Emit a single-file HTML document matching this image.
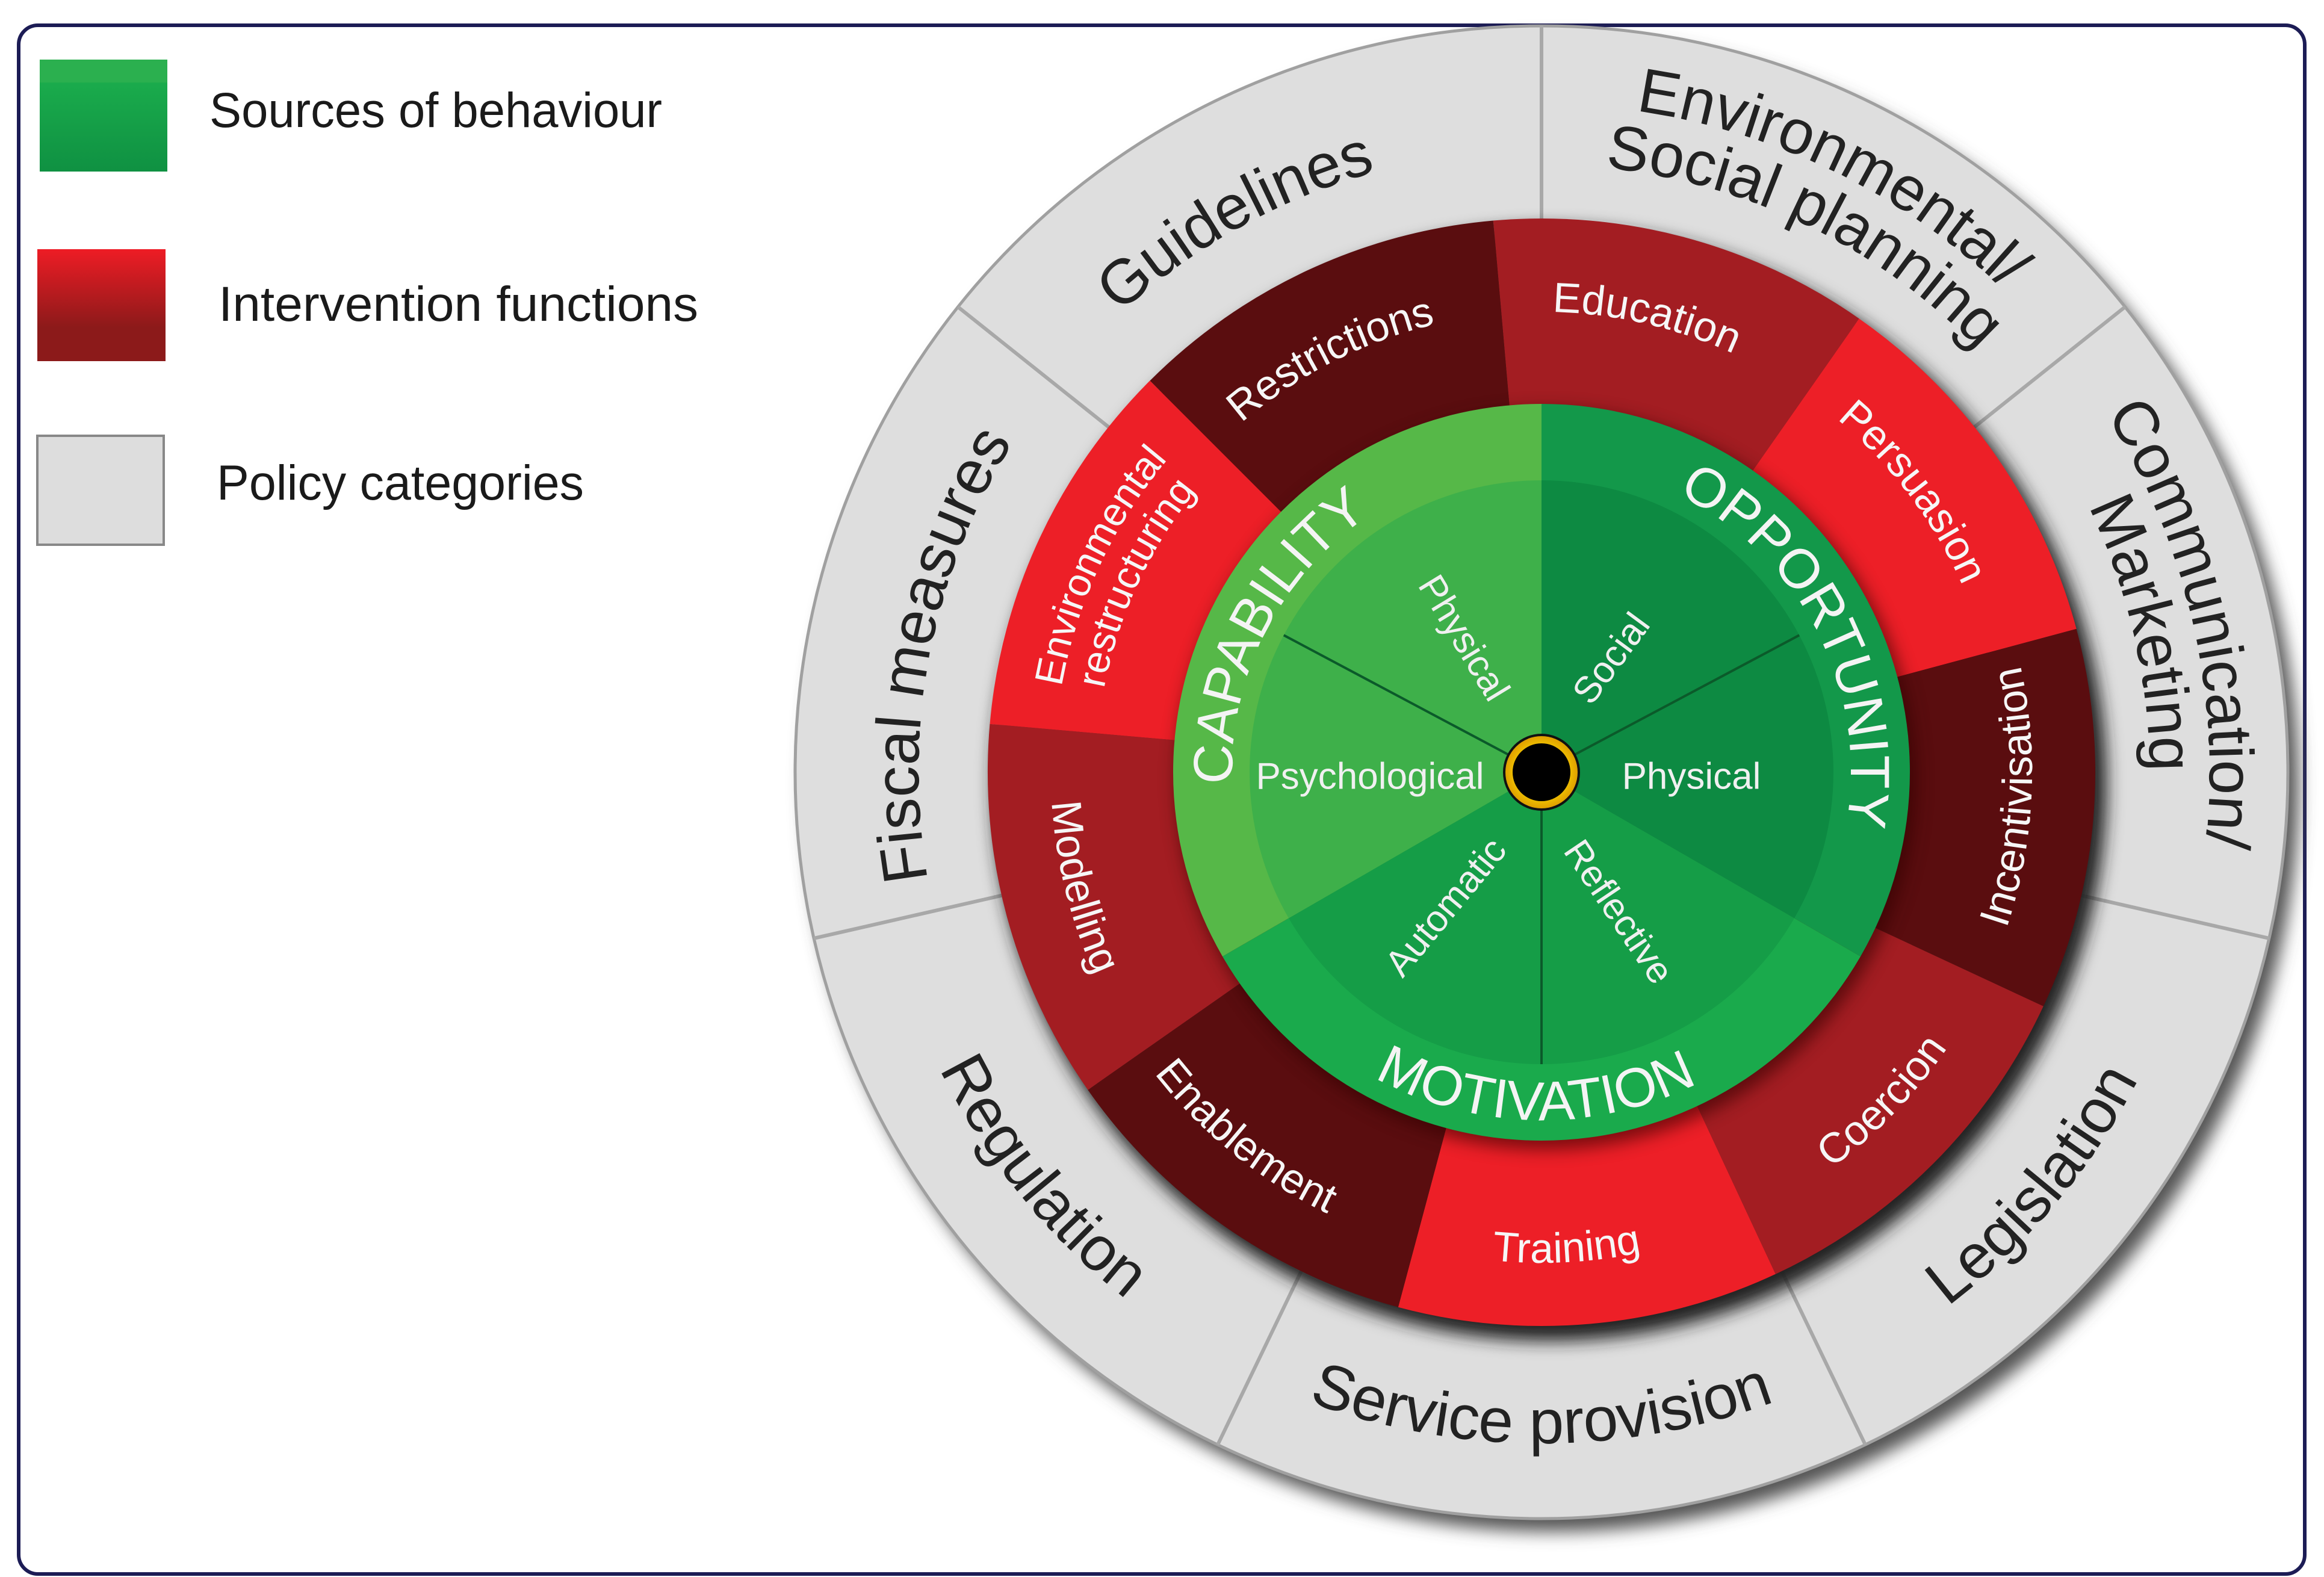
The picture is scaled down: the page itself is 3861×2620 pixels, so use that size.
<!DOCTYPE html>
<html><head><meta charset="utf-8"><style>
html,body{margin:0;padding:0;background:#fff}
svg{display:block}
text{font-family:"Liberation Sans","DejaVu Sans",sans-serif}
</style></head><body>
<svg width="3861" height="2620" viewBox="0 0 3861 2620" xmlns="http://www.w3.org/2000/svg">
<defs>
<linearGradient id="lg" x1="0" y1="0" x2="0" y2="1"><stop offset="0" stop-color="#2bb04f"/><stop offset="0.2" stop-color="#2bb04f"/><stop offset="0.21" stop-color="#1aab4c"/><stop offset="1" stop-color="#0f9142"/></linearGradient>
<linearGradient id="lr" x1="0" y1="0" x2="0" y2="1"><stop offset="0" stop-color="#ee1c25"/><stop offset="0.7" stop-color="#8c1a1a"/><stop offset="1" stop-color="#8c1a1a"/></linearGradient>
<radialGradient id="yg"><stop offset="0.7" stop-color="#f2c800"/><stop offset="1" stop-color="#e0a000"/></radialGradient>
<filter id="sh" x="-20%" y="-20%" width="140%" height="140%"><feGaussianBlur stdDeviation="14"/></filter>
<path id="gT1035" d="M-1035,0 A1035,1035 0 0 1 1035,0"/>
<path id="gT1110" d="M-1110,0 A1110,1110 0 0 1 1110,0"/>
<path id="gT1010" d="M-1010,0 A1010,1010 0 0 1 1010,0"/>
<path id="gB1115" d="M-1115,0 A1115,1115 0 0 0 1115,0"/>
<path id="rT765" d="M-765,0 A765,765 0 0 1 765,0"/>
<path id="rT810" d="M-810,0 A810,810 0 0 1 810,0"/>
<path id="rT740" d="M-740,0 A740,740 0 0 1 740,0"/>
<path id="rB815" d="M-815,0 A815,815 0 0 0 815,0"/>
<path id="cT514" d="M-514,0 A514,514 0 0 1 514,0"/>
<path id="cB578" d="M-578,0 A578,578 0 0 0 578,0"/>
</defs>
<rect x="31" y="42" width="3798" height="2573" rx="32" fill="#fff" stroke="#1c1c55" stroke-width="6"/>

<!-- legend -->
<rect x="66" y="99" width="212" height="186" fill="url(#lg)"/>
<text x="348" y="211" font-size="82" fill="#1a1a1a" textLength="752" lengthAdjust="spacingAndGlyphs">Sources of behaviour</text>
<rect x="62" y="414" width="213" height="186" fill="url(#lr)"/>
<text x="363" y="533" font-size="82" fill="#1a1a1a" textLength="797" lengthAdjust="spacingAndGlyphs">Intervention functions</text>
<rect x="62" y="724" width="210" height="181" fill="#dddddd" stroke="#888" stroke-width="4"/>
<text x="360" y="830" font-size="82" fill="#1a1a1a" textLength="610" lengthAdjust="spacingAndGlyphs">Policy categories</text>

<g transform="translate(2561,1283)">
<circle cx="18" cy="22" r="1240" fill="#555" filter="url(#sh)"/>
<circle r="1240" fill="#dedede" stroke="#a0a0a0" stroke-width="5"/>
<g stroke="#a8a8a8" stroke-width="6">
<line x1="0" y1="-900" x2="0" y2="-1240"/>
<line x1="0" y1="-900" x2="0" y2="-1240" transform="rotate(51.43)"/>
<line x1="0" y1="-900" x2="0" y2="-1240" transform="rotate(102.86)"/>
<line x1="0" y1="-900" x2="0" y2="-1240" transform="rotate(154.29)"/>
<line x1="0" y1="-900" x2="0" y2="-1240" transform="rotate(205.71)"/>
<line x1="0" y1="-900" x2="0" y2="-1240" transform="rotate(257.14)"/>
<line x1="0" y1="-900" x2="0" y2="-1240" transform="rotate(308.57)"/>
</g>
<circle cx="14" cy="20" r="925" fill="#222" filter="url(#sh)"/>
<g>
<path d="M0,0 L0,-920 A920,920 0 0 1 591.4,-704.8 Z" fill="#a31d22" transform="rotate(-5)"/>
<path d="M0,0 L0,-920 A920,920 0 0 1 591.4,-704.8 Z" fill="#ed1f27" transform="rotate(35)"/>
<path d="M0,0 L0,-920 A920,920 0 0 1 591.4,-704.8 Z" fill="#5a0d0f" transform="rotate(75)"/>
<path d="M0,0 L0,-920 A920,920 0 0 1 591.4,-704.8 Z" fill="#a31d22" transform="rotate(115)"/>
<path d="M0,0 L0,-920 A920,920 0 0 1 591.4,-704.8 Z" fill="#ed1f27" transform="rotate(155)"/>
<path d="M0,0 L0,-920 A920,920 0 0 1 591.4,-704.8 Z" fill="#5a0d0f" transform="rotate(195)"/>
<path d="M0,0 L0,-920 A920,920 0 0 1 591.4,-704.8 Z" fill="#a31d22" transform="rotate(235)"/>
<path d="M0,0 L0,-920 A920,920 0 0 1 591.4,-704.8 Z" fill="#ed1f27" transform="rotate(275)"/>
<path d="M0,0 L0,-920 A920,920 0 0 1 591.4,-704.8 Z" fill="#5a0d0f" transform="rotate(315)"/>
</g>
<circle cx="8" cy="12" r="615" fill="#300" opacity="0.6" filter="url(#sh)"/>
<!-- green -->
<path d="M0,0 L0,-612 A612,612 0 0 1 530,306 Z" fill="#13984a"/>
<path d="M0,0 L0,-612 A612,612 0 0 1 530,306 Z" fill="#1aaa4c" transform="rotate(120)"/>
<path d="M0,0 L0,-612 A612,612 0 0 1 530,306 Z" fill="#56b848" transform="rotate(240)"/>
<path d="M0,0 L0,-485 A485,485 0 0 1 420,242.5 Z" fill="#0d8a42"/>
<path d="M0,0 L0,-485 A485,485 0 0 1 420,242.5 Z" fill="#159d47" transform="rotate(120)"/>
<path d="M0,0 L0,-485 A485,485 0 0 1 420,242.5 Z" fill="#3eb04a" transform="rotate(240)"/>
<g stroke="#0b5a2a" stroke-width="4">
<line x1="0" y1="0" x2="0" y2="-485" transform="rotate(62)"/>
<line x1="0" y1="0" x2="0" y2="-485" transform="rotate(180)"/>
<line x1="0" y1="0" x2="0" y2="-485" transform="rotate(298)"/>
</g>
<circle r="64" fill="#111"/>
<circle r="60" fill="url(#yg)"/>
<circle r="48" fill="#000"/>

<!-- policy labels -->
<g font-size="104" fill="#222" text-anchor="middle">
<g transform="rotate(26)"><text><textPath href="#gT1110" startOffset="50%">Environmental/</textPath></text><text><textPath href="#gT1010" startOffset="50%">Social planning</textPath></text></g>
<g transform="rotate(77)"><text><textPath href="#gT1110" startOffset="50%">Communication/</textPath></text><text><textPath href="#gT1010" startOffset="50%">Marketing</textPath></text></g>
<g transform="rotate(-50)"><text><textPath href="#gB1115" startOffset="50%">Legislation</textPath></text></g>
<g transform="rotate(0)"><text><textPath href="#gB1115" startOffset="50%">Service provision</textPath></text></g>
<g transform="rotate(51)"><text><textPath href="#gB1115" startOffset="50%">Regulation</textPath></text></g>
<g transform="rotate(281)"><text><textPath href="#gT1035" startOffset="50%">Fiscal measures</textPath></text></g>
<g transform="rotate(331)"><text><textPath href="#gT1035" startOffset="50%">Guidelines</textPath></text></g>
</g>
<!-- intervention labels -->
<g font-size="70" fill="#f6f6f6" text-anchor="middle">
<g transform="rotate(13)"><text><textPath href="#rT765" startOffset="50%">Education</textPath></text></g>
<g transform="rotate(53)"><text><textPath href="#rT765" startOffset="50%">Persuasion</textPath></text></g>
<g transform="rotate(-87)"><text><textPath href="#rB815" startOffset="50%">Incentivisation</textPath></text></g>
<g transform="rotate(-46)"><text><textPath href="#rB815" startOffset="50%">Coercion</textPath></text></g>
<g transform="rotate(-3)"><text><textPath href="#rB815" startOffset="50%">Training</textPath></text></g>
<g transform="rotate(39)"><text><textPath href="#rB815" startOffset="50%">Enablement</textPath></text></g>
<g transform="rotate(76)"><text><textPath href="#rB815" startOffset="50%">Modelling</textPath></text></g>
<g transform="rotate(295)" font-size="66"><text><textPath href="#rT810" startOffset="50%">Environmental</textPath></text><text><textPath href="#rT740" startOffset="50%">restructuring</textPath></text></g>
<g transform="rotate(333)"><text><textPath href="#rT765" startOffset="50%">Restrictions</textPath></text></g>
</g>
<!-- sources labels -->
<g font-size="92" fill="#f4f4f4" text-anchor="middle">
<g transform="rotate(297)"><text><textPath href="#cT514" startOffset="50%">CAPABILITY</textPath></text></g>
<g transform="rotate(63)"><text><textPath href="#cT514" startOffset="50%">OPPORTUNITY</textPath></text></g>
<g transform="rotate(1)"><text><textPath href="#cB578" startOffset="50%">MOTIVATION</textPath></text></g>
</g>
</g>
<g font-size="62" fill="#f0f0f0" text-anchor="middle" dominant-baseline="central">
<text x="2432" y="1060" transform="rotate(58.7 2432 1060)">Physical</text>
<text x="2677" y="1094" transform="rotate(-53.6 2677 1094)">Social</text>
<text x="2276" y="1290">Psychological</text>
<text x="2810" y="1290">Physical</text>
<text x="2402" y="1507" transform="rotate(-50.5 2402 1507)">Automatic</text>
<text x="2689" y="1515" transform="rotate(56 2689 1515)">Reflective</text>
</g>
</svg>
</body></html>
